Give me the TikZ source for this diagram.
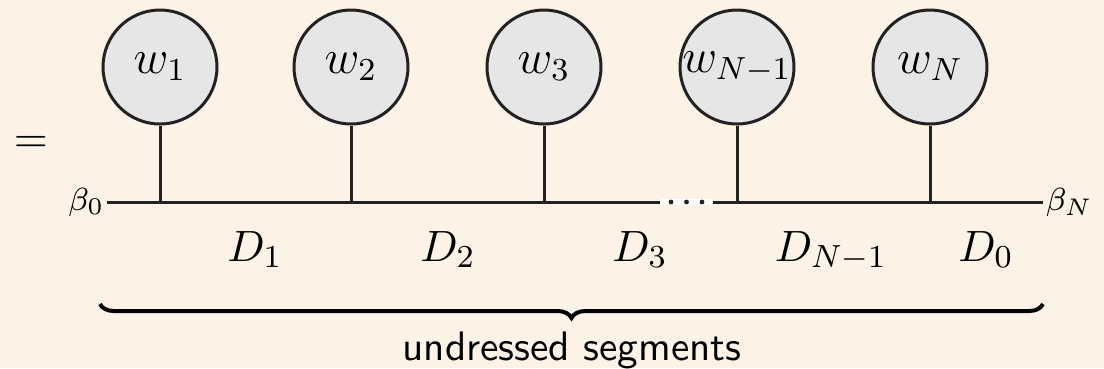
\documentclass[tikz,border=0pt]{standalone}
\usetikzlibrary{decorations.pathreplacing}
\definecolor{bgpeach}{RGB}{253,242,230}
\definecolor{nodegray}{RGB}{230,230,230}
\definecolor{linegray}{RGB}{34,34,34}
\begin{document}
\begin{tikzpicture}[x=0.25pt,y=-0.25pt,
  wnode/.style={circle,draw=linegray,fill=nodegray,line width=0.75pt,minimum size=28.5pt,inner sep=0pt},
  wlab/.style={font=\fontsize{12}{14}\selectfont,inner sep=0pt},
  conn/.style={draw=linegray,line width=0.75pt},
  dlab/.style={font=\fontsize{11.3}{13}\selectfont,anchor=base,inner sep=0pt},
  blab/.style={font=\fontsize{8}{10}\selectfont,inner sep=0.5pt},
  dotnode/.style={circle,fill=linegray,inner sep=0pt,minimum size=1.2pt},
  gapnode/.style={fill=white,inner sep=0pt,minimum width=13.25pt,minimum height=1.5pt}]
\fill[bgpeach] (0,0) rectangle (1104,368);
\useasboundingbox (0,0) rectangle (1104,368);
% equals
\node[font=\fontsize{11.3}{13}\selectfont] (eq) at (31,144) {$=$};
% circles
\node[wnode,label={[wlab]center:$w_1$}] (c1) at (160,67) {};
\node[wnode,label={[wlab]center:$w_2$}] (c2) at (351,67) {};
\node[wnode,label={[wlab]center:$w_3$}] (c3) at (544,67) {};
\node[wnode,label={[wlab]center:$w_{N-1}$}] (c4) at (737,67) {};
\node[wnode,label={[wlab]center:$w_N$}] (c5) at (930,67) {};
% junctions
\coordinate (j1) at (160,202);
\coordinate (j2) at (351,202);
\coordinate (j3) at (544,202);
\coordinate (j4) at (737,202);
\coordinate (j5) at (930,202);
% end labels
\node[blab,anchor=east] (b0) at (107,202) {$\beta_0$};
\node[blab,anchor=west] (bN) at (1043,202) {$\beta_N$};
% lines
\draw[conn] (b0.east) -- (bN.west);
\foreach \i in {1,...,5} {\draw[conn] (c\i.south) -- (j\i);}
% dots gap
\node[gapnode] (gap) at (686.5,202) {};
\node[dotnode] (d1) at (671,202) {};
\node[dotnode] (d2) at (686.5,202) {};
\node[dotnode] (d3) at (702,202) {};
% D labels
\node[dlab] (D1) at (255,261) {$D_1$};
\node[dlab] (D2) at (448,261) {$D_2$};
\node[dlab] (D3) at (640,261) {$D_3$};
\node[dlab] (DN) at (831,261) {$D_{N-1}$};
\node[dlab] (D0) at (986,261) {$D_0$};
% brace
\coordinate (brL) at (100,304);
\coordinate (brR) at (1043,304);
\draw[line width=1pt,decorate,decoration={brace,mirror,amplitude=3.5pt}] (brL) -- (brR);
\node[font=\sffamily\fontsize{10.3}{12}\selectfont,anchor=base] (us) at (572,360) {undressed segments};
\end{tikzpicture}
\end{document}
